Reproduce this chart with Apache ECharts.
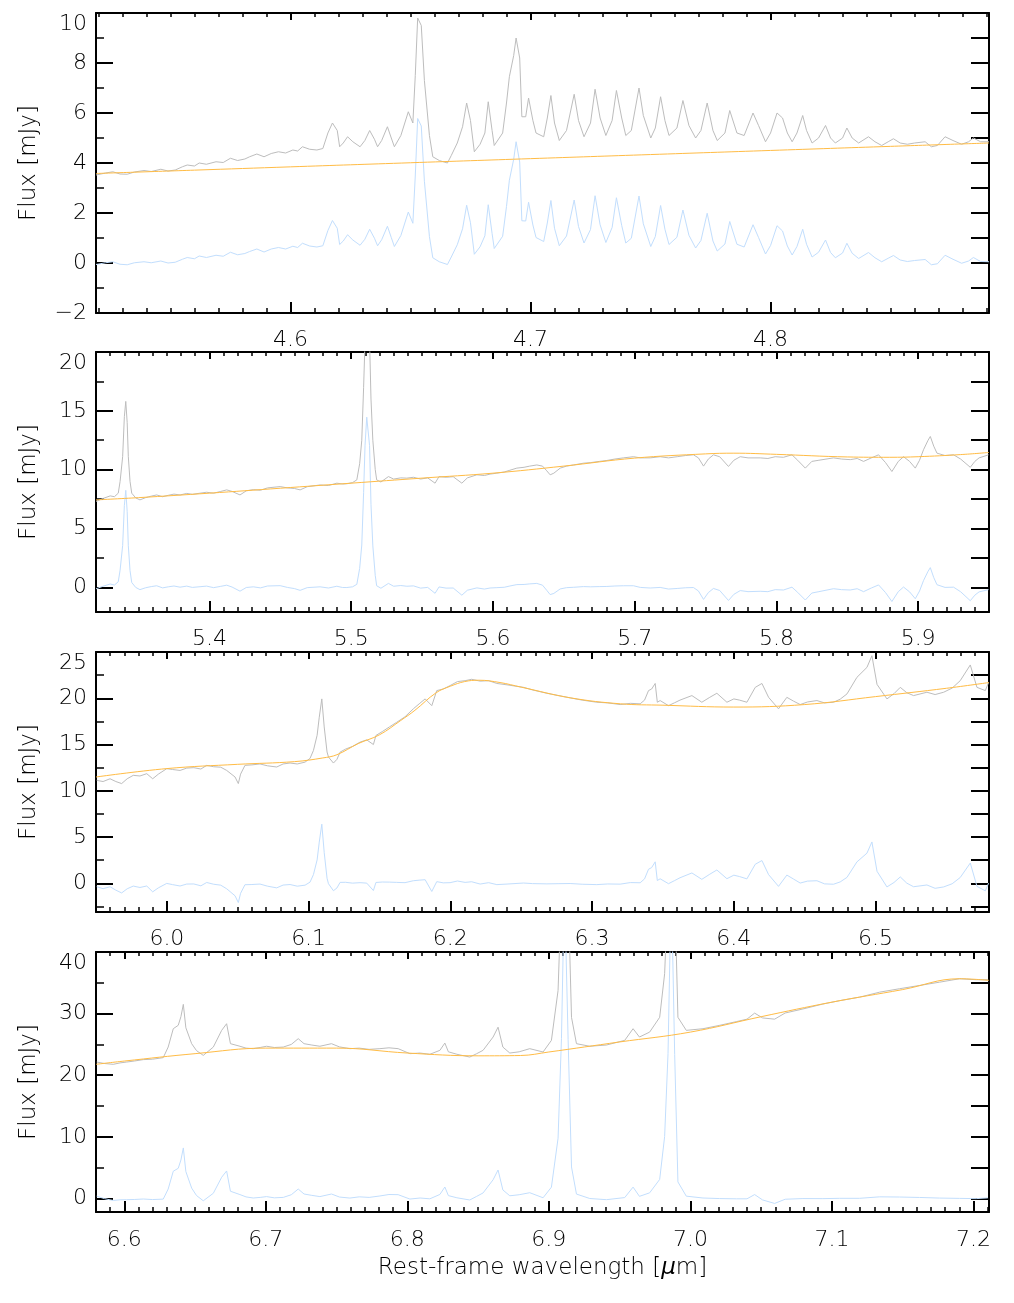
<!DOCTYPE html>
<html><head><meta charset="utf-8">
<script src="https://cdn.jsdelivr.net/npm/echarts@6/dist/echarts.min.js"></script>
<style>html,body{margin:0;padding:0;background:#fff}#c{width:1014px;height:1303px}</style>
</head><body><div id="c"></div>
<script>
// ---------- Panel 1 ----------
const wl1 = [4.519,4.523,4.526,4.529,4.532,4.535,4.539,4.542,4.546,4.549,4.552,4.555,4.557,4.560,4.562,4.565,4.569,4.572,4.575,4.578,4.581,4.583,4.586,4.589,4.592,4.595,4.598,4.601,4.603,4.605,4.608,4.611,4.6135,4.6156,4.6175,4.6195,4.6205,4.622,4.6238,4.626,4.629,4.631,4.633,4.635,4.6363,4.638,4.6404,4.642,4.6433,4.646,4.6491,4.651,4.652,4.653,4.6545,4.6558,4.6579,4.6593,4.662,4.6654,4.667,4.6695,4.6717,4.6734,4.675,4.6766,4.679,4.681,4.6824,4.684,4.6849,4.6884,4.690,4.6912,4.693,4.694,4.6955,4.6964,4.698,4.6992,4.701,4.7023,4.7055,4.707,4.7085,4.710,4.712,4.715,4.7182,4.720,4.7223,4.725,4.7269,4.729,4.7314,4.734,4.7358,4.738,4.7397,4.742,4.7452,4.747,4.7501,4.752,4.7542,4.756,4.7577,4.761,4.7635,4.766,4.7688,4.771,4.7736,4.776,4.7778,4.781,4.783,4.786,4.789,4.7927,4.795,4.7979,4.800,4.8027,4.805,4.807,4.809,4.811,4.8134,4.815,4.8173,4.820,4.8229,4.825,4.827,4.830,4.8318,4.834,4.8367,4.8408,4.8435,4.8463,4.849,4.8512,4.854,4.857,4.860,4.8644,4.867,4.8695,4.8727,4.876,4.8796,4.8825,4.8845,4.8875,4.891];
const obs1 = [3.52,3.60,3.65,3.56,3.55,3.64,3.70,3.66,3.75,3.68,3.72,3.85,3.92,3.88,4.00,3.95,4.05,4.02,4.19,4.10,4.16,4.25,4.36,4.25,4.38,4.45,4.40,4.52,4.48,4.65,4.55,4.52,4.58,5.20,5.60,5.30,4.65,4.80,5.05,4.85,4.65,4.90,5.30,4.95,4.65,4.90,5.45,5.00,4.65,5.10,6.05,5.60,7.50,9.80,9.50,7.30,5.10,4.25,4.10,4.00,4.30,4.80,5.45,6.40,5.70,4.45,4.75,5.20,6.45,5.30,4.70,5.20,6.40,7.45,8.30,9.00,8.20,5.85,5.85,6.60,5.70,5.20,5.05,5.80,6.70,5.60,4.90,5.30,6.75,5.70,5.05,5.60,6.95,5.80,5.10,5.70,6.90,5.80,5.10,5.30,7.00,5.90,5.00,5.40,6.65,5.70,5.10,5.40,6.50,5.50,5.00,5.30,6.40,5.30,4.90,5.20,6.10,5.20,5.10,6.00,5.50,4.85,5.20,6.00,5.80,5.20,4.85,5.20,5.90,5.30,4.80,5.00,5.50,5.00,4.80,5.00,5.40,5.00,4.80,5.05,4.85,4.70,4.85,4.97,4.80,4.75,4.80,4.85,4.65,4.70,5.05,4.90,4.75,4.85,5.00,4.85,4.85];
const res1 = [-0.06,0.01,0.05,-0.05,-0.07,0.01,0.05,0.01,0.08,0.00,0.03,0.15,0.22,0.17,0.28,0.22,0.31,0.27,0.43,0.33,0.38,0.46,0.56,0.44,0.56,0.62,0.56,0.67,0.62,0.79,0.68,0.64,0.69,1.30,1.70,1.39,0.74,0.88,1.13,0.92,0.71,0.95,1.35,0.99,0.69,0.93,1.47,1.02,0.66,1.10,2.04,1.59,3.48,5.78,5.48,3.27,1.06,0.21,0.05,-0.06,0.24,0.73,1.37,2.31,1.61,0.35,0.65,1.09,2.33,1.18,0.58,1.07,2.26,3.31,4.15,4.85,4.04,1.69,1.68,2.43,1.52,1.02,0.86,1.60,2.50,1.39,0.69,1.08,2.52,1.46,0.80,1.34,2.69,1.53,0.82,1.42,2.61,1.50,0.80,0.99,2.68,1.57,0.66,1.06,2.30,1.35,0.74,1.03,2.12,1.11,0.60,0.90,1.99,0.88,0.48,0.76,1.66,0.75,0.64,1.53,1.02,0.36,0.70,1.49,1.28,0.68,0.32,0.66,1.35,0.75,0.24,0.43,0.92,0.42,0.21,0.40,0.79,0.39,0.18,0.42,0.21,0.05,0.19,0.30,0.12,0.06,0.10,0.14,-0.07,-0.03,0.31,0.15,-0.01,0.08,0.22,0.06,0.05];
const cwl1 = [4.519,4.56,4.60,4.65,4.70,4.75,4.80,4.85,4.891];
const cont1 = [3.58,3.714,3.846,4.01,4.174,4.338,4.502,4.666,4.80];

// ---------- Panel 2 ----------
const wl2 = [5.320,5.325,5.330,5.333,5.3357,5.337,5.3388,5.340,5.341,5.342,5.3428,5.344,5.3452,5.348,5.351,5.355,5.359,5.3628,5.367,5.371,5.375,5.3793,5.384,5.388,5.3934,5.398,5.403,5.408,5.4122,5.416,5.4216,5.426,5.431,5.436,5.441,5.4499,5.455,5.460,5.464,5.469,5.4781,5.484,5.4899,5.494,5.497,5.501,5.504,5.506,5.5075,5.5088,5.5098,5.511,5.513,5.514,5.5153,5.517,5.518,5.521,5.5263,5.530,5.535,5.5393,5.544,5.549,5.554,5.5592,5.562,5.567,5.572,5.5781,5.582,5.5887,5.594,5.598,5.6028,5.608,5.612,5.6169,5.622,5.626,5.631,5.635,5.638,5.6404,5.643,5.6475,5.652,5.657,5.6639,5.669,5.675,5.6804,5.686,5.692,5.6992,5.704,5.711,5.718,5.7239,5.730,5.736,5.7415,5.745,5.7486,5.752,5.7556,5.760,5.7662,5.770,5.7745,5.780,5.7886,5.794,5.7992,5.805,5.811,5.815,5.8204,5.825,5.830,5.8403,5.846,5.8521,5.857,5.8615,5.867,5.8721,5.877,5.8815,5.886,5.8897,5.894,5.898,5.901,5.9038,5.907,5.9086,5.911,5.9133,5.919,5.925,5.930,5.9368,5.940,5.943,5.9497];
const obs2 = [7.30,7.55,7.77,7.70,8.00,9.00,11.10,14.50,15.80,14.00,11.10,9.00,8.00,7.60,7.43,7.62,7.75,7.85,7.70,7.82,7.92,7.85,7.98,7.90,8.00,8.08,8.00,8.15,8.28,8.15,7.85,8.20,8.30,8.25,8.45,8.56,8.45,8.40,8.28,8.55,8.70,8.65,8.85,8.78,8.80,8.90,9.13,10.50,12.50,17.00,21.00,23.40,21.00,16.00,12.50,10.00,9.13,8.95,9.41,9.20,9.30,9.28,9.35,9.20,9.30,8.85,9.41,9.35,9.40,8.85,9.30,9.56,9.50,9.62,9.70,9.80,9.95,10.13,10.20,10.30,10.40,10.30,9.90,9.56,9.70,10.13,10.30,10.40,10.55,10.60,10.70,10.78,10.90,11.00,11.10,11.00,11.00,11.10,11.00,11.10,11.20,11.26,11.00,10.30,10.90,11.26,11.10,10.27,10.80,11.10,11.00,11.00,10.95,11.10,11.05,11.26,10.80,10.13,10.70,10.80,11.00,10.90,10.85,10.95,10.70,11.00,11.26,10.60,9.84,10.70,11.10,10.70,10.13,10.80,11.69,12.50,12.82,12.00,11.40,11.20,11.26,10.90,10.20,10.70,11.00,11.26];
const res2 = [-0.13,0.09,0.28,0.19,0.47,1.46,3.55,6.94,8.24,6.43,3.53,1.42,0.41,-0.01,-0.20,-0.04,0.06,0.13,-0.05,0.04,0.11,0.01,0.10,-0.01,0.05,0.10,-0.03,0.08,0.18,0.02,-0.33,-0.02,0.04,-0.05,0.11,0.14,-0.01,-0.11,-0.26,-0.03,0.04,-0.06,0.09,-0.02,-0.02,0.04,0.25,1.60,3.59,8.07,12.07,14.46,12.04,7.03,3.52,1.01,0.13,-0.08,0.33,0.09,0.15,0.09,0.12,-0.07,-0.01,-0.51,0.03,-0.07,-0.06,-0.67,-0.25,-0.05,-0.15,-0.06,-0.03,0.00,0.11,0.23,0.24,0.29,0.33,0.18,-0.26,-0.62,-0.52,-0.14,-0.03,0.00,0.06,0.04,0.06,0.07,0.11,0.13,0.13,-0.01,-0.06,-0.01,-0.15,-0.10,-0.04,-0.02,-0.31,-1.03,-0.45,-0.10,-0.27,-1.12,-0.60,-0.28,-0.37,-0.34,-0.37,-0.20,-0.23,0.01,-0.43,-1.08,-0.49,-0.37,-0.12,-0.20,-0.23,-0.12,-0.37,-0.06,0.20,-0.45,-1.21,-0.37,0.02,-0.39,-0.97,-0.32,0.57,1.36,1.67,0.83,0.22,-0.01,0.01,-0.38,-1.14,-0.67,-0.39,-0.20];
const cwl2 = [5.32,5.35,5.40,5.45,5.50,5.55,5.60,5.65,5.70,5.75,5.77,5.80,5.85,5.88,5.90,5.93,5.95];
const cont2 = [7.43,7.62,8.00,8.42,8.85,9.28,9.70,10.30,10.98,11.34,11.40,11.30,11.08,11.05,11.10,11.28,11.46];

// ---------- Panel 3 ----------
const wl3 = [5.9505,5.955,5.9599,5.964,5.9681,5.972,5.9763,5.981,5.9858,5.990,5.994,5.9999,6.004,6.0093,6.014,6.019,6.024,6.0281,6.033,6.038,6.0422,6.0481,6.0504,6.052,6.0551,6.060,6.0657,6.071,6.0775,6.082,6.0869,6.092,6.0975,6.101,6.1034,6.106,6.1075,6.1093,6.111,6.113,6.114,6.1175,6.120,6.1222,6.126,6.131,6.1363,6.141,6.1457,6.1475,6.152,6.157,6.1621,6.168,6.1739,6.178,6.1822,6.1869,6.1904,6.195,6.1998,6.205,6.2104,6.215,6.221,6.227,6.2328,6.240,6.2516,6.258,6.2681,6.276,6.2845,6.293,6.3033,6.311,6.3198,6.327,6.3339,6.337,6.3398,6.342,6.3445,6.346,6.348,6.3492,6.3539,6.358,6.362,6.3704,6.3774,6.383,6.388,6.3951,6.400,6.404,6.4092,6.4151,6.4198,6.4245,6.4315,6.4374,6.442,6.4468,6.452,6.4586,6.464,6.4703,6.475,6.4798,6.4868,6.4939,6.4974,6.501,6.508,6.513,6.5174,6.522,6.5268,6.5362,6.542,6.548,6.554,6.5597,6.5668,6.5715,6.5774,6.5797];
const obs3 = [11.13,11.00,11.30,11.00,10.78,11.30,11.67,11.60,11.85,11.30,11.80,12.39,12.30,12.20,12.45,12.50,12.35,12.75,12.60,12.55,12.20,11.49,10.78,11.80,12.75,12.80,12.90,12.70,12.57,12.90,13.00,12.90,13.10,13.50,14.36,16.00,17.95,19.93,16.90,14.20,13.65,13.00,13.40,14.18,14.50,14.80,15.26,15.50,15.00,15.98,16.40,16.90,17.40,18.00,18.86,19.40,19.93,19.20,20.83,21.00,21.37,21.80,21.90,22.05,21.85,21.90,21.60,21.45,21.18,20.90,20.54,20.30,20.04,19.80,19.57,19.50,19.32,19.45,19.40,19.80,20.83,21.00,21.60,19.57,19.75,19.90,19.20,19.50,19.80,20.29,19.57,20.10,20.54,19.57,19.93,19.80,19.57,21.18,21.60,20.10,18.86,20.10,19.70,19.32,19.60,19.75,19.50,19.57,19.90,20.47,22.26,23.34,24.60,21.50,19.93,20.50,21.18,20.60,20.29,20.65,20.40,20.65,21.10,21.90,23.60,21.18,20.83,21.70];
const res3 = [-0.37,-0.58,-0.37,-0.74,-1.04,-0.59,-0.30,-0.45,-0.29,-0.92,-0.49,-0.01,-0.14,-0.29,-0.08,-0.07,-0.27,0.09,-0.10,-0.20,-0.59,-1.35,-2.08,-1.08,-0.15,-0.13,-0.08,-0.31,-0.49,-0.19,-0.13,-0.31,-0.20,0.13,0.94,2.53,4.45,6.39,3.33,0.55,-0.04,-0.80,-0.50,0.10,0.11,0.02,0.07,0.02,-0.78,0.09,0.14,0.13,0.10,0.07,0.28,0.34,0.39,-0.88,0.18,0.05,0.07,0.25,0.10,0.17,-0.08,0.07,-0.14,-0.08,0.03,-0.03,-0.06,-0.04,-0.02,-0.10,-0.14,-0.07,-0.09,0.08,0.06,0.48,1.52,1.70,2.32,0.30,0.49,0.64,-0.04,0.28,0.60,1.12,0.43,0.98,1.44,0.50,0.88,0.73,0.48,2.06,2.46,0.94,-0.33,0.89,0.47,0.03,0.24,0.28,-0.06,-0.10,0.15,0.64,2.31,3.26,4.47,1.30,-0.39,0.09,0.69,0.02,-0.37,-0.18,-0.54,-0.39,-0.05,0.63,2.19,-0.33,-0.81,0.01];
const cwl3 = [5.95,6.00,6.05,6.09,6.11,6.12,6.135,6.15,6.165,6.175,6.19,6.20,6.21,6.22,6.235,6.25,6.285,6.32,6.35,6.40,6.45,6.50,6.55,6.58];
const cont3 = [11.49,12.40,12.86,13.15,13.55,13.90,15.10,16.05,17.60,18.70,20.60,21.30,21.80,21.95,21.70,21.20,20.04,19.40,19.25,19.05,19.32,20.18,21.08,21.70];

// ---------- Panel 4 ----------
const wl4 = [6.5805,6.586,6.5922,6.597,6.6017,6.607,6.6134,6.620,6.6275,6.631,6.6346,6.6381,6.640,6.6417,6.6435,6.6476,6.651,6.6558,6.6629,6.6688,6.6723,6.675,6.6817,6.686,6.6911,6.696,6.7005,6.706,6.7123,6.718,6.7229,6.727,6.7325,6.7382,6.7464,6.752,6.7594,6.766,6.773,6.7806,6.787,6.7935,6.8018,6.809,6.8159,6.823,6.8265,6.829,6.835,6.8441,6.849,6.8535,6.8606,6.8641,6.8675,6.8724,6.879,6.8865,6.8959,6.9018,6.9065,6.9089,6.911,6.9136,6.916,6.9195,6.9289,6.9407,6.9536,6.9595,6.964,6.9712,6.9783,6.9818,6.9842,6.9865,6.9889,6.9912,6.9971,7.0089,7.0207,7.0325,7.040,7.0454,7.051,7.0595,7.067,7.0795,7.0936,7.1054,7.1195,7.1337,7.1478,7.1619,7.176,7.1902,7.2019,7.2102];
const obs4 = [22.14,21.90,21.77,22.00,22.14,22.30,22.53,22.60,22.85,24.57,27.55,28.10,29.50,31.50,27.70,25.12,24.00,23.22,24.57,27.28,28.36,25.12,24.70,24.40,24.31,24.50,24.70,24.50,24.57,25.00,25.93,25.12,24.90,24.70,25.12,24.60,24.31,24.40,24.20,24.31,24.45,24.31,23.50,23.60,23.40,24.04,25.22,23.80,23.40,22.95,23.50,24.04,26.20,27.80,24.57,23.60,23.80,24.31,23.77,25.66,33.76,50.00,75.00,50.00,29.40,25.12,24.70,24.90,25.66,27.55,26.20,27.00,29.40,36.47,50.00,78.00,50.00,29.40,27.28,27.55,28.10,28.70,29.10,30.08,29.30,29.10,30.10,30.75,31.55,32.10,32.67,33.48,34.04,34.57,35.10,35.66,35.50,35.50];
const res4 = [0.36,-0.03,-0.33,-0.22,-0.20,-0.17,-0.09,-0.18,-0.11,1.53,4.42,4.89,6.24,8.20,4.36,1.68,0.48,-0.38,0.84,3.44,4.46,1.17,0.63,0.25,0.07,0.17,0.30,0.10,0.17,0.60,1.53,0.72,0.50,0.30,0.72,0.23,0.06,0.26,0.17,0.40,0.64,0.61,-0.10,0.07,-0.06,0.65,1.86,0.46,0.11,-0.25,0.34,0.89,3.03,4.62,1.38,0.43,0.60,0.93,0.11,1.83,9.78,25.94,50.87,25.79,5.11,0.71,-0.01,-0.20,0.14,1.84,0.34,0.91,3.09,10.05,23.51,51.43,23.36,2.68,0.37,0.07,-0.02,-0.06,-0.06,0.63,-0.24,-0.81,-0.13,-0.02,-0.03,0.02,0.02,0.26,0.23,0.16,0.06,0.01,-0.03,0.09];
const cwl4 = [6.58,6.60,6.65,6.70,6.75,6.80,6.85,6.88,6.90,6.95,7.00,7.05,7.10,7.15,7.19,7.211];
const cont4 = [21.77,22.30,23.50,24.40,24.40,23.60,23.15,23.20,23.77,25.40,27.00,29.50,31.86,33.90,35.66,35.40];

// ---------- Tick labels ----------
const xTicks1 = [4.6,4.7,4.8];
const yTicks1 = [-2,0,2,4,6,8,10];
const xTicks2 = [5.4,5.5,5.6,5.7,5.8,5.9];
const yTicks2 = [0,5,10,15,20];
const xTicks3 = [6.0,6.1,6.2,6.3,6.4,6.5];
const yTicks3 = [0,5,10,15,20,25];
const xTicks4 = [6.6,6.7,6.8,6.9,7.0,7.1,7.2];
const yTicks4 = [0,10,20,30,40];

const yName = 'Flux [mJy]';
const xName = 'Rest-frame wavelength [{mu|μ}m]';

// ---------- Layout ----------
const FONT = 'DejaVu Sans';
const TXT = '#000';
const panels = [
  {top:13, height:300, xmin:4.519, xmax:4.891, ymin:-2,   ymax:10, xt:xTicks1, yt:yTicks1, xs:0.01, ys:1,   wl:wl1, obs:obs1, res:res1, cwl:cwl1, cont:cont1},
  {top:352,height:260, xmin:5.320, xmax:5.950, ymin:-2.1, ymax:20, xt:xTicks2, yt:yTicks2, xs:0.01, ys:2.5, wl:wl2, obs:obs2, res:res2, cwl:cwl2, cont:cont2},
  {top:652,height:260, xmin:5.950, xmax:6.580, ymin:-3.1, ymax:25, xt:xTicks3, yt:yTicks3, xs:0.01, ys:2.5, wl:wl3, obs:obs3, res:res3, cwl:cwl3, cont:cont3},
  {top:952,height:260, xmin:6.580, xmax:7.211, ymin:-2.2, ymax:40, xt:xTicks4, yt:yTicks4, xs:0.01, ys:5,   wl:wl4, obs:obs4, res:res4, cwl:cwl4, cont:cont4}
];
function steps(min, max, st) {
  const out = [];
  for (let k = Math.ceil(min / st - 1e-9); k * st <= max + 1e-9; k++) out.push(Math.round(k * st * 1e6) / 1e6);
  return out;
}
function zip(a, b) { return a.map((v, i) => [v, b[i]]); }

const grids = [], xAxes = [], yAxes = [], series = [];
const black = '#000';
panels.forEach((p, i) => {
  grids.push({left:96, right:25, top:p.top, height:p.height, outerBoundsMode:'none'});
  const xMinor = steps(p.xmin, p.xmax, p.xs);
  const yMinor = steps(p.ymin, p.ymax, p.ys);
  const baseX = {gridIndex:i, type:'value', min:p.xmin, max:p.xmax, splitLine:{show:false}, axisLabel:{show:false}};
  const baseY = {gridIndex:i, type:'value', min:p.ymin, max:p.ymax, splitLine:{show:false}, axisLabel:{show:false}};
  const bx = Object.assign({}, baseX, {
    position:'bottom',
    axisLine:{show:true, onZero:false, lineStyle:{color:black, width:2}},
    axisTick:{show:true, inside:true, length:11, customValues:p.xt, lineStyle:{color:black, width:2}},
    axisLabel:{show:true, customValues:p.xt, formatter:v => v.toFixed(1), margin:(i === 3 ? 17 : 16), fontSize:22, fontFamily:FONT, color:TXT, fontWeight:200}
  });
  if (i === 3) {
    bx.name = xName; bx.nameLocation = 'middle'; bx.nameGap = 45;
    bx.nameTextStyle = {fontSize:23, fontFamily:FONT, color:TXT, fontWeight:200, rich:{mu:{fontSize:23, fontFamily:FONT, fontStyle:'italic', color:TXT, fontWeight:200}}};
  }
  xAxes.push(bx);
  xAxes.push(Object.assign({}, baseX, {position:'bottom', axisLine:{show:false, onZero:false},
    axisTick:{show:true, inside:true, length:5, customValues:xMinor, lineStyle:{color:black, width:1.5}}}));
  xAxes.push(Object.assign({}, baseX, {position:'top', axisLine:{show:true, onZero:false, lineStyle:{color:black, width:2}},
    axisTick:{show:true, inside:true, length:7, customValues:p.xt, lineStyle:{color:black, width:2}}}));
  xAxes.push(Object.assign({}, baseX, {position:'top', axisLine:{show:false, onZero:false},
    axisTick:{show:true, inside:true, length:4, customValues:xMinor, lineStyle:{color:black, width:1.5}}}));
  yAxes.push(Object.assign({}, baseY, {
    position:'left', name:yName, nameLocation:'middle', nameGap:55, nameRotate:90,
    nameTextStyle:{fontSize:23, fontFamily:FONT, color:TXT, fontWeight:200},
    axisLine:{show:true, onZero:false, lineStyle:{color:black, width:2}},
    axisTick:{show:true, inside:true, length:17, customValues:p.yt, lineStyle:{color:black, width:2}},
    axisLabel:{show:true, customValues:p.yt, formatter:v => String(v).replace('-', '\u2212'), margin:9, fontSize:22, fontFamily:FONT, color:TXT, fontWeight:200, verticalAlignMaxLabel:'top'}
  }));
  yAxes.push(Object.assign({}, baseY, {position:'left', axisLine:{show:false, onZero:false},
    axisTick:{show:true, inside:true, length:8, customValues:yMinor, lineStyle:{color:black, width:1.5}}}));
  yAxes.push(Object.assign({}, baseY, {position:'right', axisLine:{show:true, onZero:false, lineStyle:{color:black, width:2}},
    axisTick:{show:true, inside:true, length:18, customValues:yMinor, lineStyle:{color:black, width:2}}}));

  const common = {type:'line', xAxisIndex:4*i, yAxisIndex:3*i, showSymbol:false, symbol:'none', silent:true, clip:true, animation:false};
  series.push(Object.assign({}, common, {name:'observed', data:zip(p.wl, p.obs), lineStyle:{color:'#bdbdbd', width:1}}));
  series.push(Object.assign({}, common, {name:'residual', data:zip(p.wl, p.res), lineStyle:{color:'#c2defd', width:1}}));
  series.push(Object.assign({}, common, {name:'continuum', data:zip(p.cwl, p.cont), smooth:0.4, lineStyle:{color:'#ffbc45', width:1}}));
});

const chart = echarts.init(document.getElementById('c'), null, {renderer:'canvas'});
chart.setOption({
  animation:false,
  backgroundColor:'#fff',
  grid:grids, xAxis:xAxes, yAxis:yAxes, series:series
});
</script>
</body></html>
